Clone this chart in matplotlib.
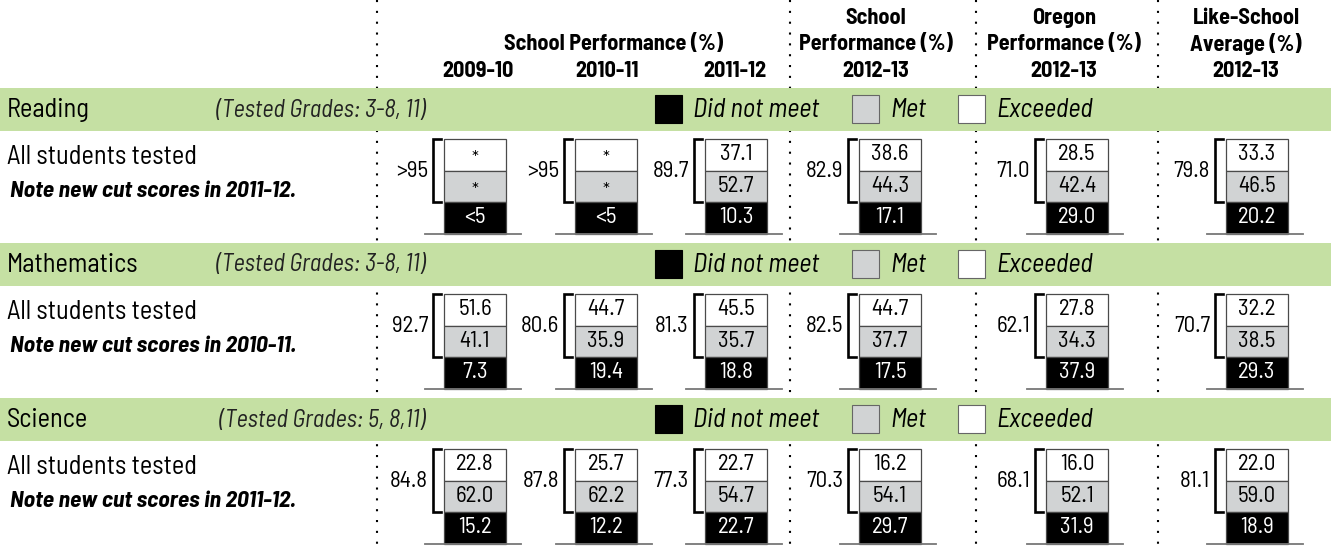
import matplotlib
matplotlib.use("Agg")
import matplotlib.pyplot as plt
from matplotlib.patches import Rectangle

subjects = ["Reading", "Mathematics", "Science"]
grades = ["(Tested Grades: 3-8, 11)", "(Tested Grades: 3-8, 11)", "(Tested Grades: 5, 8,11)"]
notes = ["Note new cut scores in 2011-12.", "Note new cut scores in 2010-11.", "Note new cut scores in 2011-12."]
exceeded = [["*", "*", "37.1", "38.6", "28.5", "33.3"],
            ["51.6", "44.7", "45.5", "44.7", "27.8", "32.2"],
            ["22.8", "25.7", "22.7", "16.2", "16.0", "22.0"]]
met = [["*", "*", "52.7", "44.3", "42.4", "46.5"],
       ["41.1", "35.9", "35.7", "37.7", "34.3", "38.5"],
       ["62.0", "62.2", "54.7", "54.1", "52.1", "59.0"]]
not_met = [["<5", "<5", "10.3", "17.1", "29.0", "20.2"],
           ["7.3", "19.4", "18.8", "17.5", "37.9", "29.3"],
           ["15.2", "12.2", "22.7", "29.7", "31.9", "18.9"]]
totals = [[">95", ">95", "89.7", "82.9", "71.0", "79.8"],
          ["92.7", "80.6", "81.3", "82.5", "62.1", "70.7"],
          ["84.8", "87.8", "77.3", "70.3", "68.1", "81.1"]]
years = ["2009-10", "2010-11", "2011-12"]
legend_labels = ["Did not meet", "Met", "Exceeded"]

plt.rcParams["font.family"] = ["Barlow Semi Condensed", "DejaVu Sans"]

GREEN = "#c5e0a3"
GRAY = "#d1d3d4"
EDGE = "#4a4a4a"

fig = plt.figure(figsize=(13.31, 5.46), dpi=100)
ax = fig.add_axes([0, 0, 1, 1])
ax.set_xlim(0, 1331)
ax.set_ylim(546, 0)
ax.axis("off")

# column layout (pixels)
bar_cx = [475, 606, 736, 890, 1077, 1257]
bar_w = 62
box_h = 31.5
seps = [377, 790, 976, 1158]

for sx in seps:
    ax.plot([sx, sx], [0, 546], color="black", lw=1.5, linestyle=(0, (1, 4.2)), zorder=1)

# header
hdr = dict(ha="center", va="center", fontsize=16, fontweight="bold")
ax.text(614, 44, "School Performance (%)", **hdr)
for cx, yr in zip([478, 607, 735], years):
    ax.text(cx, 71, yr, **hdr)
for cx, l1, l2 in [(876, "School", "Performance (%)"),
                   (1064, "Oregon", "Performance (%)"),
                   (1246, "Like-School", "Average (%)")]:
    ax.text(cx, 18, l1, **hdr)
    ax.text(cx, 44, l2, **hdr)
    ax.text(cx, 71, "2012-13", **hdr)

for r in range(len(subjects)):
    top = 88 + 155 * r
    ax.add_patch(Rectangle((0, top), 1331, 43, facecolor=GREEN, edgecolor="none", zorder=2))
    ax.text(7, top + 22, subjects[r], ha="left", va="center", fontsize=19, zorder=3)
    ax.text(425, top + 22, grades[r], ha="right", va="center", fontsize=17.5,
            style="italic", color="#222222", zorder=3)
    # legend inside band
    for lx, col, lab in zip([655, 852, 958], ["black", GRAY, "white"], legend_labels):
        ax.add_patch(Rectangle((lx, top + 7), 27, 28, facecolor=col,
                               edgecolor="#666666" if col != "black" else "black", lw=0.8, zorder=3))
        ax.text(lx + 38, top + 22, lab, ha="left", va="center", fontsize=19,
                style="italic", zorder=3)

    ax.text(7, top + 69, "All students tested", ha="left", va="center", fontsize=19)
    ax.text(10, top + 103, notes[r], ha="left", va="center", fontsize=17,
            style="italic", fontweight="bold")

    btop = top + 51
    for c, cx in enumerate(bar_cx):
        x0 = cx - bar_w / 2
        vals = [exceeded[r][c], met[r][c], not_met[r][c]]
        cols = ["white", GRAY, "black"]
        tcols = ["black", "black", "white"]
        for k in range(3):
            y0 = btop + k * box_h
            ax.add_patch(Rectangle((x0, y0), bar_w, box_h, facecolor=cols[k],
                                   edgecolor=EDGE, lw=0.9, zorder=4))
            star = vals[k] == "*"
            ax.text(cx, y0 + box_h / 2 + (4 if star else 0), vals[k], ha="center", va="center",
                    fontsize=16.5 if not star else 13, color=tcols[k], zorder=5)
        base = btop + 3 * box_h
        ax.plot([x0 - 19, x0 + bar_w + 15], [base, base], color="#777777", lw=1.3, zorder=4)
        # bracket over met + exceeded
        bx = x0 - 11
        ax.plot([x0 - 3, bx, bx, x0 - 3], [btop, btop, btop + 2 * box_h, btop + 2 * box_h],
                color="black", lw=1.9, solid_joinstyle="miter", zorder=4)
        ax.text(bx - 5, btop + box_h + 1, totals[r][c], ha="right", va="center",
                fontsize=16.5, zorder=5)

fig.savefig("out.png", dpi=100)
